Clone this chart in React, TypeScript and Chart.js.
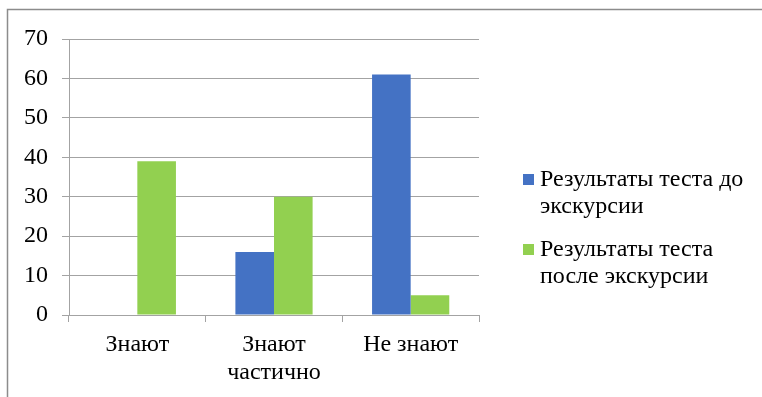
import React, { useEffect, useRef } from "react";
import { Chart, registerables } from "chart.js";

Chart.register(...registerables);

const categories: (string | string[])[] = ["Знают", ["Знают", "частично"], "Не знают"];
const seriesBeforeLabel = "Результаты теста до экскурсии";
const seriesAfterLabel = "Результаты теста после экскурсии";
const seriesBefore = [0, 16, 61];
const seriesAfter = [39, 30, 5];
const legendLines = [
  ["Результаты теста до", "экскурсии"],
  ["Результаты теста", "после экскурсии"],
];

const FONT = "'Liberation Serif', 'Times New Roman', serif";
const GRID = "#a3a3a3";

const framePlugin = {
  id: "frame",
  beforeDraw(chart: any) {
    const ctx = chart.ctx;
    ctx.save();
    ctx.fillStyle = "#ffffff";
    ctx.fillRect(0, 0, chart.width, chart.height);
    ctx.strokeStyle = "#8c8c8c";
    ctx.lineWidth = 1.5;
    ctx.beginPath();
    ctx.moveTo(7.5, chart.height);
    ctx.lineTo(7.5, 9.5);
    ctx.lineTo(chart.width, 9.5);
    ctx.stroke();
    ctx.restore();
  },
  afterDraw(chart: any) {
    const ctx = chart.ctx;
    ctx.save();
    ctx.font = `24px ${FONT}`;
    ctx.textBaseline = "middle";
    ctx.textAlign = "left";
    const starts = [180, 250];
    chart.data.datasets.forEach((ds: any, i: number) => {
      const y0 = starts[i];
      ctx.fillStyle = ds.backgroundColor;
      ctx.fillRect(523, y0 - 6, 11, 11);
      ctx.fillStyle = "#000";
      legendLines[i].forEach((line, j) => {
        ctx.fillText(line, 540, y0 + j * 27);
      });
    });
    ctx.restore();
  },
};

export default function App() {
  const ref = useRef<HTMLCanvasElement>(null);
  useEffect(() => {
    if (!ref.current) return;
    const chart = new Chart(ref.current, {
      type: "bar",
      data: {
        labels: categories as any,
        datasets: [
          { label: seriesBeforeLabel, data: seriesBefore, backgroundColor: "#4472c4", categoryPercentage: 0.565, barPercentage: 1 },
          { label: seriesAfterLabel, data: seriesAfter, backgroundColor: "#92d050", categoryPercentage: 0.565, barPercentage: 1 },
        ],
      },
      options: {
        animation: false,
        responsive: false,
        devicePixelRatio: 1,
        layout: { padding: { left: 0, top: 39, right: 283, bottom: 0 } },
        plugins: { legend: { display: false }, tooltip: { enabled: false } },
        scales: {
          x: {
            grid: { drawOnChartArea: false, drawTicks: true, tickLength: 7, color: GRID },
            border: { display: true, color: GRID, width: 1 },
            ticks: { color: "#000", font: { family: FONT, size: 24, lineHeight: 1.17 }, padding: 9, maxRotation: 0, autoSkip: false },
            afterFit: (s: any) => { s.height = 82; },
          },
          y: {
            min: 0,
            max: 70,
            grid: { drawOnChartArea: true, drawTicks: true, tickLength: 7, color: GRID },
            border: { display: true, color: GRID, width: 1 },
            ticks: { stepSize: 10, color: "#000", font: { family: FONT, size: 24 }, padding: 14 },
            afterFit: (s: any) => { s.width = 69; },
          },
        },
      },
      plugins: [framePlugin],
    });
    return () => chart.destroy();
  }, []);
  return (
    <div style={{ position: "absolute", left: 0, top: 0, width: 762, height: 397 }}>
      <canvas ref={ref} width={762} height={397} style={{ width: 762, height: 397, display: "block" }} />
    </div>
  );
}
